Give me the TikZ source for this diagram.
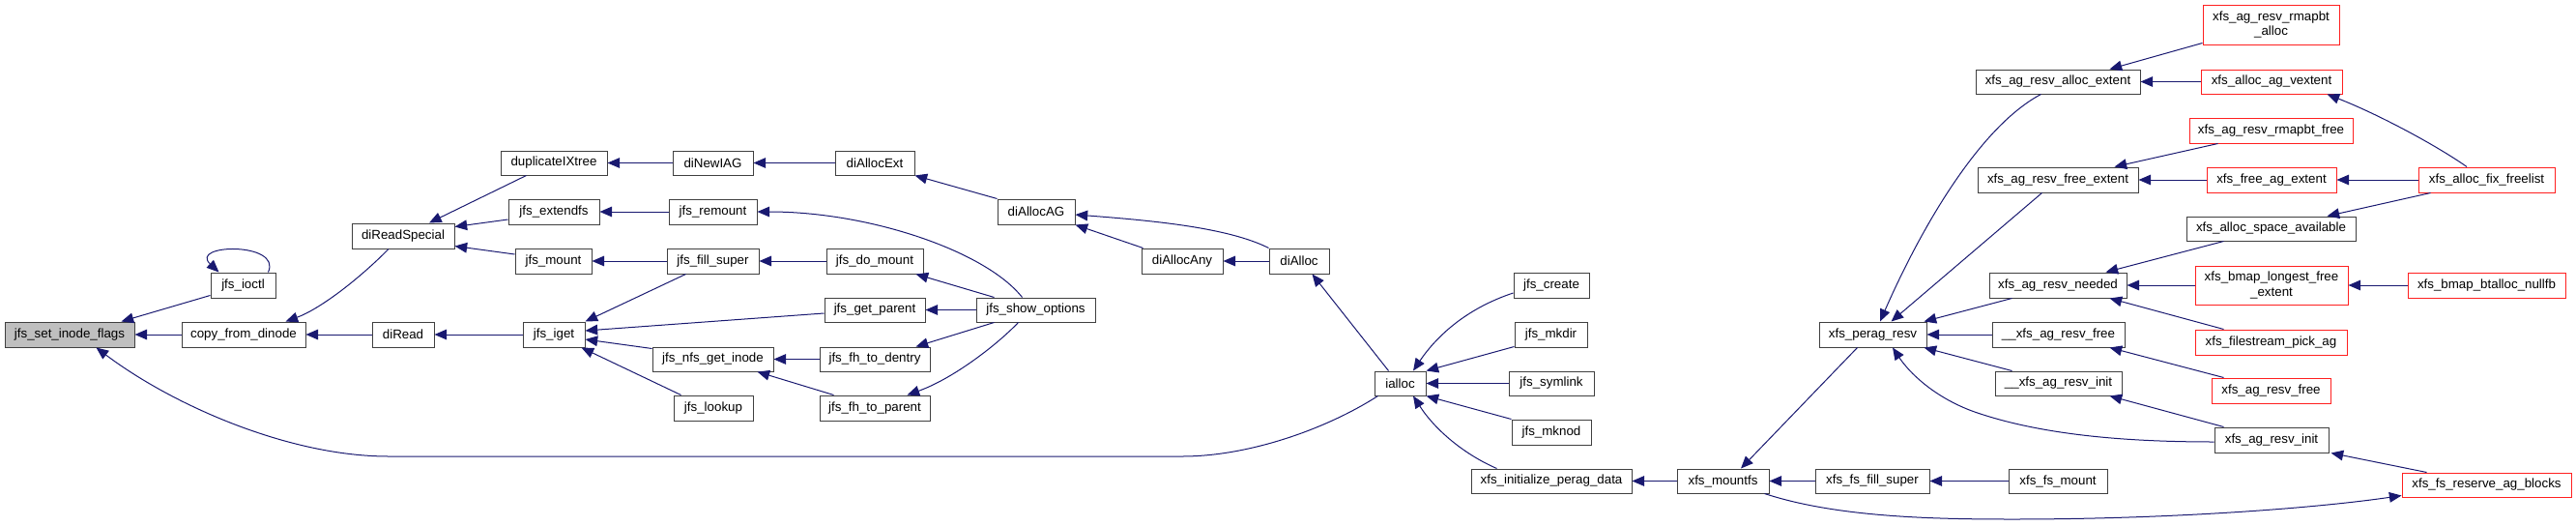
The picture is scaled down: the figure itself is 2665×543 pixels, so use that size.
\documentclass[tikz,border=0pt]{standalone}
\usepackage{fontspec}
\setmainfont{Liberation Sans}
\usetikzlibrary{arrows.meta,calc}
\definecolor{edgec}{HTML}{191970}
\definecolor{boxc}{HTML}{404040}
\definecolor{redc}{HTML}{FF2020}
\definecolor{fillg}{HTML}{BFBFBF}
\tikzset{
  nb/.style={draw=boxc, line width=0.75pt, fill=white, inner sep=0pt, align=center,
    font=\fontsize{10}{11.5}\selectfont},
  nr/.style={nb, draw=redc},
  ng/.style={nb, fill=fillg},
  calls/.style={draw=edgec, line width=0.75pt, -{Triangle[length=9.5pt,width=8pt]}}
}
\newcommand\mkbox[7]{\node[#6, minimum width={(#4-#2)*0.75pt}, minimum height={(#5-#3)*0.75pt}] (#1) at ({(#2+#4)/2},{(#3+#5)/2}) {#7};}
\begin{document}
\begin{tikzpicture}[x=0.75pt,y=-0.75pt]
\useasboundingbox (0,0) rectangle (2665,543);
% nodes
\mkbox{setf}{5}{333}{139}{359}{ng}{jfs\_set\_inode\_flags}
\mkbox{ioctl}{218}{282}{285}{308}{nb}{jfs\_ioctl}
\mkbox{cfd}{188}{333}{316}{359}{nb}{copy\_from\_dinode}
\mkbox{drs}{364}{231}{470}{257}{nb}{diReadSpecial}
\mkbox{dread}{385}{333}{449}{359}{nb}{diRead}
\mkbox{dup}{518}{156}{628}{181}{nb}{duplicateIXtree}
\mkbox{ext}{526}{206}{620}{232}{nb}{jfs\_extendfs}
\mkbox{jmount}{533}{257}{612}{283}{nb}{jfs\_mount}
\mkbox{iget}{541}{333}{605}{359}{nb}{jfs\_iget}
\mkbox{newiag}{696}{156}{779}{181}{nb}{diNewIAG}
\mkbox{remount}{692}{206}{783}{232}{nb}{jfs\_remount}
\mkbox{fill}{690}{257}{785}{283}{nb}{jfs\_fill\_super}
\mkbox{nfs}{675}{359}{800}{384}{nb}{jfs\_nfs\_get\_inode}
\mkbox{lookup}{697}{409}{779}{435}{nb}{jfs\_lookup}
\mkbox{aext}{864}{156}{946}{181}{nb}{diAllocExt}
\mkbox{domount}{855}{257}{955}{283}{nb}{jfs\_do\_mount}
\mkbox{getparent}{853}{308}{957}{333}{nb}{jfs\_get\_parent}
\mkbox{fhd}{848}{359}{962}{384}{nb}{jfs\_fh\_to\_dentry}
\mkbox{fhp}{848}{409}{962}{435}{nb}{jfs\_fh\_to\_parent}
\mkbox{showopt}{1010}{308}{1133}{333}{nb}{jfs\_show\_options}
\mkbox{aag}{1032}{206}{1112}{232}{nb}{diAllocAG}
\mkbox{aany}{1181}{257}{1265}{283}{nb}{diAllocAny}
\mkbox{dalloc}{1313}{257}{1375}{283}{nb}{diAlloc}
\mkbox{ialloc}{1422}{384}{1475}{409}{nb}{ialloc}
\mkbox{create}{1566}{282}{1644}{308}{nb}{jfs\_create}
\mkbox{mkdir}{1567}{333}{1642}{359}{nb}{jfs\_mkdir}
\mkbox{symlink}{1561}{384}{1649}{409}{nb}{jfs\_symlink}
\mkbox{mknod}{1564}{434}{1646}{460}{nb}{jfs\_mknod}
\mkbox{initpd}{1522}{485}{1688}{510}{nb}{xfs\_initialize\_perag\_data}
\mkbox{mountfs}{1735}{485}{1830}{510}{nb}{xfs\_mountfs}
\mkbox{peragresv}{1882}{333}{1993}{359}{nb}{xfs\_perag\_resv}
\mkbox{fsfill}{1878}{485}{1996}{510}{nb}{xfs\_fs\_fill\_super}
\mkbox{allocext}{2044}{72}{2214}{97}{nb}{xfs\_ag\_resv\_alloc\_extent}
\mkbox{freeext}{2046}{173}{2212}{199}{nb}{xfs\_ag\_resv\_free\_extent}
\mkbox{needed}{2058}{282}{2200}{308}{nb}{xfs\_ag\_resv\_needed}
\mkbox{ufree}{2061}{333}{2198}{359}{nb}{\_\_xfs\_ag\_resv\_free}
\mkbox{uinit}{2064}{384}{2195}{409}{nb}{\_\_xfs\_ag\_resv\_init}
\mkbox{fsmount}{2078}{485}{2180}{510}{nb}{xfs\_fs\_mount}
\mkbox{rmalloc}{2279}{5}{2420}{46}{nr}{xfs\_ag\_resv\_rmapbt\\\_alloc}
\mkbox{vextent}{2277}{72}{2423}{97}{nr}{xfs\_alloc\_ag\_vextent}
\mkbox{rmfree}{2265}{122}{2434}{148}{nr}{xfs\_ag\_resv\_rmapbt\_free}
\mkbox{freeag}{2283}{173}{2417}{199}{nr}{xfs\_free\_ag\_extent}
\mkbox{spaceav}{2262}{224}{2437}{249}{nb}{xfs\_alloc\_space\_available}
\mkbox{longest}{2271}{275}{2429}{315}{nr}{xfs\_bmap\_longest\_free\\\_extent}
\mkbox{filestream}{2271}{341}{2428}{367}{nr}{xfs\_filestream\_pick\_ag}
\mkbox{resvfree}{2288}{391}{2411}{417}{nr}{xfs\_ag\_resv\_free}
\mkbox{resvinit}{2291}{442}{2409}{468}{nb}{xfs\_ag\_resv\_init}
\mkbox{fixfree}{2502}{173}{2643}{199}{nr}{xfs\_alloc\_fix\_freelist}
\mkbox{nullfb}{2491}{282}{2654}{308}{nr}{xfs\_bmap\_btalloc\_nullfb}
\mkbox{reserve}{2485}{489}{2660}{514}{nr}{xfs\_fs\_reserve\_ag\_blocks}
% edges
\draw[calls] ($(ioctl.south west)+(0,-3)$) -- ($(setf.north east)+(-14,0)$);
\draw[calls] ($(ioctl.north east)+(-8,0)$) .. controls (292,250) and (195,252) .. ($(ioctl.north west)+(9,0)$);
\draw[calls] (cfd.west) -- (setf.east);
\draw[calls] ($(ialloc.south west)+(4,0)$) .. controls (1370,445) and (1290,472) .. (1223,472) -- (402,472) .. controls (300,472) and (180,420) .. ($(setf.south west)+(95,0)$);
\draw[calls] ($(drs.south)+(-15,0)$) .. controls (370,290) and (330,320) .. ($(cfd.north east)+(-21,0)$);
\draw[calls] (dread.west) -- (cfd.east);
\draw[calls] ($(dup.south west)+(27,0)$) -- ($(drs.north)+(27,0)$);
\draw[calls] ($(ext.west)+(0,8)$) -- ($(drs.north east)+(0,4)$);
\draw[calls] ($(jmount.west)+(0,-7)$) -- ($(drs.south east)+(0,-3)$);
\draw[calls] (iget.west) -- (dread.east);
\draw[calls] (newiag.west) -- (dup.east);
\draw[calls] (remount.west) -- (ext.east);
\draw[calls] (fill.west) -- (jmount.east);
\draw[calls] ($(fill.south west)+(20,0)$) -- (iget.north east);
\draw[calls] ($(getparent.west)+(0,3.5)$) -- ($(iget.east)+(0,-4)$);
\draw[calls] ($(nfs.north west)+(0,2)$) -- ($(iget.east)+(0,5)$);
\draw[calls] ($(lookup.north west)+(8,0)$) -- ($(iget.south east)+(-4,0)$);
\draw[calls] (aext.west) -- (newiag.east);
\draw[calls] ($(showopt.north west)+(48,0)$) .. controls (1020,260) and (900,219) .. (remount.east);
\draw[calls] (domount.west) -- (fill.east);
\draw[calls] ($(showopt.north west)+(19,0)$) -- ($(domount.south east)+(-8,0)$);
\draw[calls] (showopt.west) -- (getparent.east);
\draw[calls] (fhd.west) -- (nfs.east);
\draw[calls] ($(fhp.north west)+(15,0)$) -- ($(nfs.south east)+(-17,0)$);
\draw[calls] ($(showopt.south west)+(19,0)$) -- ($(fhd.north east)+(-15,0)$);
\draw[calls] ($(showopt.south west)+(44,0)$) .. controls (1030,358) and (985,392) .. ($(fhp.north east)+(-24,0)$);
\draw[calls] (aag.north west) -- (aext.south east);
\draw[calls] (dalloc.north west) .. controls (1270,235) and (1190,228) .. ($(aag.east)+(0,3)$);
\draw[calls] ($(aany.north west)+(2,0)$) -- (aag.south east);
\draw[calls] (dalloc.west) -- (aany.east);
\draw[calls] ($(ialloc.north west)+(15,0)$) -- ($(dalloc.south east)+(-18,0)$);
\draw[calls] ($(create.west)+(0,8)$) .. controls (1520,318) and (1488,345) .. ($(ialloc.north)+(13.5,0)$);
\draw[calls] ($(mkdir.south west)+(0,-1)$) -- (ialloc.north east);
\draw[calls] (symlink.west) -- (ialloc.east);
\draw[calls] (mknod.north west) -- (ialloc.south east);
\draw[calls] ($(initpd.north west)+(27,0)$) .. controls (1515,470) and (1485,445) .. ($(ialloc.south)+(13.5,0)$);
\draw[calls] (mountfs.west) -- (initpd.east);
\draw[calls] ($(peragresv.south west)+(40,0)$) -- ($(mountfs.north)+(18.5,0)$);
\draw[calls] (fsfill.west) -- (mountfs.east);
\draw[calls] ($(allocext.south west)+(68,0)$) .. controls (2050,130) and (1990,230) .. ($(peragresv.north)+(7.5,0)$);
\draw[calls] ($(freeext.south west)+(67,0)$) -- ($(peragresv.north)+(19,0)$);
\draw[calls] ($(needed.south west)+(24,0)$) -- ($(peragresv.north east)+(-3,0)$);
\draw[calls] (ufree.west) -- (peragresv.east);
\draw[calls] ($(uinit.north west)+(18,0)$) -- ($(peragresv.south east)+(-3,0)$);
\draw[calls] ($(resvinit.west)+(0,2)$) .. controls (2200,457) and (2110,450) .. (2040,425) .. controls (2000,410) and (1975,385) .. ($(peragresv.south)+(20.5,0)$);
\draw[calls] (fsmount.west) -- (fsfill.east);
\draw[calls] ($(mountfs.south east)+(-5,0)$) .. controls (1900,535) and (2000,537) .. (2082,537) .. controls (2250,537) and (2400,525) .. ($(reserve.south west)+(0,-2)$);
\draw[calls] ($(rmalloc.south west)+(0,-2)$) -- ($(allocext.north east)+(-32,0)$);
\draw[calls] (vextent.west) -- (allocext.east);
\draw[calls] ($(fixfree.north)+(-20.5,0)$) .. controls (2520,150) and (2460,118) .. ($(vextent.south east)+(-16,0)$);
\draw[calls] ($(rmfree.south west)+(30,0)$) -- ($(freeext.north east)+(-25,0)$);
\draw[calls] (freeag.west) -- (freeext.east);
\draw[calls] (fixfree.west) -- (freeag.east);
\draw[calls] ($(spaceav.south west)+(39,0)$) -- ($(needed.north east)+(-22,0)$);
\draw[calls] ($(fixfree.south west)+(13,0)$) -- ($(spaceav.north east)+(-30,0)$);
\draw[calls] (longest.west) -- (needed.east);
\draw[calls] ($(filestream.north west)+(30,0)$) -- ($(needed.south east)+(-18,0)$);
\draw[calls] (nullfb.west) -- (longest.east);
\draw[calls] ($(resvfree.north west)+(13,0)$) -- ($(ufree.south east)+(-16,0)$);
\draw[calls] ($(resvinit.north west)+(10,0)$) -- ($(uinit.south east)+(-13,0)$);
\draw[calls] ($(reserve.north west)+(26,0)$) -- ($(resvinit.south east)+(2,0)$);
\end{tikzpicture}
\end{document}
